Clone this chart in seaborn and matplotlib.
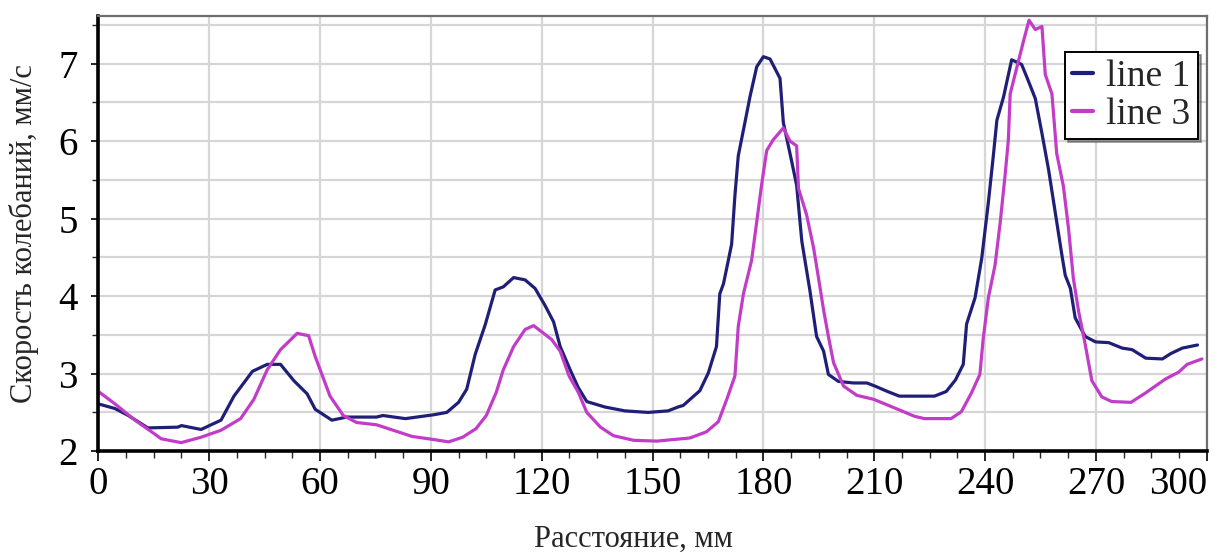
"""Скорость колебаний по длине: line 1 и line 3."""

import matplotlib

matplotlib.use("Agg")
import matplotlib.pyplot as plt
import numpy as np
import pandas as pd
import seaborn as sns
from matplotlib.ticker import MultipleLocator

# Данные
x_line1 = [0, 4.5, 8.1, 13.4, 21.5, 22.5, 27.8, 33.2, 36.7, 41.7, 45.7, 49.3, 52.9, 56.5,
           58.7, 63.2, 67.2, 75.3, 77.0, 83.1, 90.8, 94.3, 97.5, 99.7, 102.0, 104.7, 107.4,
           109.6, 112.4, 115.5, 118.2, 120.9, 123.2, 125.0, 127.7, 129.9, 132.2, 137.1,
           142.5, 148.8, 154.2, 156.9, 158.3, 162.8, 165.1, 167.3, 168.2, 169.2, 170.5,
           171.4, 172.3, 173.2, 175.0, 176.4, 178.2, 180.0, 181.8, 184.5, 185.4, 187.7,
           189.0, 190.4, 192.6, 194.4, 196.3, 197.6, 200.3, 204.4, 208.0, 210.2, 213.6,
           216.8, 226.3, 229.5, 232.0, 234.1, 235.0, 237.3, 239.1, 240.9, 242.3, 243.2,
           245.0, 247.2, 249.9, 251.7, 253.6, 255.4, 257.2, 259.0, 260.8, 261.7, 263.1,
           264.4, 267.1, 269.9, 273.5, 277.1, 279.8, 283.5, 288.0, 290.3, 293.4, 297.5]
y_line1 = [2.61, 2.55, 2.46, 2.30, 2.31, 2.33, 2.28, 2.40, 2.71, 3.03, 3.12, 3.12, 2.91, 2.74,
           2.54, 2.40, 2.44, 2.44, 2.46, 2.42, 2.47, 2.50, 2.63, 2.80, 3.25, 3.63, 4.08,
           4.12, 4.24, 4.21, 4.10, 3.88, 3.67, 3.35, 3.05, 2.82, 2.64, 2.57,
           2.52, 2.50, 2.52, 2.57, 2.59, 2.78, 3.01, 3.35, 4.03, 4.16, 4.46,
           4.67, 5.30, 5.81, 6.24, 6.58, 6.96, 7.09, 7.06, 6.81, 6.24, 5.73,
           5.43, 4.71, 4.07, 3.48, 3.29, 2.99, 2.90, 2.88, 2.88, 2.84, 2.77,
           2.71, 2.71, 2.77, 2.92, 3.12, 3.64, 3.98, 4.49, 5.21, 5.84, 6.27,
           6.57, 7.05, 6.99, 6.78, 6.55, 6.10, 5.63, 5.08, 4.53, 4.27, 4.10,
           3.72, 3.48, 3.41, 3.40, 3.33, 3.31, 3.20, 3.19, 3.26, 3.33, 3.37]

x_line3 = [0, 4.5, 9.9, 14.4, 17.0, 22.4, 27.8, 33.2, 38.5, 42.1, 45.7, 49.3, 53.8, 56.9,
           58.7, 62.7, 66.3, 69.9, 75.3, 79.8, 84.9, 90.8, 94.8, 98.6, 102.2, 105.0, 107.7,
           109.6, 112.4, 115.5, 117.8, 120.0, 122.7, 125.0, 127.4, 129.9, 132.2, 135.9,
           139.4, 144.9, 151.2, 160.1, 164.6, 167.8, 170.1, 172.3, 173.2, 174.6, 176.8,
           178.2, 179.5, 180.9, 182.7, 185.4, 187.2, 189.0, 189.5, 191.7, 193.6, 194.9,
           196.3, 197.6, 199.0, 201.7, 205.3, 209.8, 215.4, 220.9, 223.6, 230.8, 233.6,
           236.3, 238.6, 239.5, 240.9, 242.7, 244.1, 245.4, 246.3, 246.8, 248.6, 250.4,
           251.9, 253.6, 255.4, 256.3, 258.1, 259.4, 261.2, 262.6, 263.9, 265.3, 267.1,
           268.9, 271.6, 274.3, 279.5, 283.4, 288.8, 292.4, 294.7, 298.7]
y_line3 = [2.77, 2.61, 2.40, 2.25, 2.16, 2.11, 2.18, 2.27, 2.42, 2.67, 3.05, 3.31, 3.52, 3.49,
           3.22, 2.71, 2.46, 2.37, 2.34, 2.27, 2.19, 2.15, 2.12, 2.18, 2.29, 2.46, 2.76,
           3.05, 3.35, 3.57, 3.62, 3.54, 3.44, 3.29, 2.97, 2.76, 2.50, 2.31,
           2.20, 2.14, 2.13, 2.17, 2.25, 2.38, 2.67, 2.97, 3.61, 4.03, 4.46,
           4.96, 5.43, 5.88, 6.02, 6.17, 6.00, 5.94, 5.39, 5.05, 4.62, 4.24,
           3.82, 3.48, 3.14, 2.84, 2.72, 2.67, 2.56, 2.45, 2.42, 2.42, 2.51,
           2.75, 2.99, 3.45, 3.98, 4.40, 4.95, 5.55, 6.01, 6.61, 6.95, 7.29,
           7.56, 7.44, 7.48, 6.86, 6.61, 5.84, 5.42, 4.87, 4.23, 3.81, 3.38,
           2.91, 2.70, 2.64, 2.63, 2.75, 2.93, 3.02, 3.12, 3.19]

x_ticks = [0, 30, 60, 90, 120, 150, 180, 210, 240, 270, 300]
y_ticks = [2, 3, 4, 5, 6, 7]

sns.set_theme(style="white")
plt.rcParams["font.family"] = ["Liberation Serif", "DejaVu Serif"]

df = pd.concat([
    pd.DataFrame({"x": x_line1, "y": y_line1, "line": "line 1"}),
    pd.DataFrame({"x": x_line3, "y": y_line3, "line": "line 3"}),
])

fig = plt.figure(figsize=(12.22, 5.57), dpi=100)
ax = fig.add_axes([0.0805, 0.19, 0.907, 0.782])

sns.lineplot(data=df, x="x", y="y", hue="line", sort=False, estimator=None,
             palette={"line 1": "#1f1f78", "line 3": "#c23cc8"}, linewidth=2.3, ax=ax)

ax.set_xlim(0, 300)
ax.set_ylim(2.03, 7.62)
ax.set_xticks(x_ticks)
ax.set_yticks(y_ticks)
ax.xaxis.set_minor_locator(MultipleLocator(7.5))
ax.yaxis.set_minor_locator(MultipleLocator(0.5))

ax.grid(True, axis="x", which="major", color="#d6d6d6", linewidth=1.6)
ax.grid(True, axis="y", which="both", color="#d6d6d6", linewidth=1.6)
ax.set_axisbelow(True)

ax.tick_params(axis="x", which="major", direction="out", length=7, width=1.2,
               labelsize=28, pad=4, colors="black")
ax.tick_params(axis="x", which="minor", direction="out", length=5, width=1.0)
ax.tick_params(axis="y", which="major", direction="out", length=5, width=1.2,
               labelsize=28, pad=10, colors="black")
ax.tick_params(axis="y", which="minor", direction="out", length=4, width=1.0)
ax.xaxis.set_ticks_position("bottom")
ax.yaxis.set_ticks_position("left")

# последняя подпись сдвинута внутрь, как на исходнике
ax.get_xticklabels()[-1].set_horizontalalignment("right")
ax.get_xticklabels()[-1].set_x(300)

for side in ("left", "bottom"):
    ax.spines[side].set_color("black")
    ax.spines[side].set_linewidth(2.6)
for side in ("top", "right"):
    ax.spines[side].set_color("#6e6e6e")
    ax.spines[side].set_linewidth(1.6)

ax.set_xlabel("Расстояние, мм", fontsize=22)
ax.xaxis.set_label_coords(0.483, -0.17)
ax.set_ylabel("Скорость колебаний, мм/с", fontsize=22, labelpad=14)

leg = ax.legend(loc="upper right", bbox_to_anchor=(0.992, 0.917), borderaxespad=0,
                fontsize=27, handlelength=0.55, handletextpad=0.35, labelspacing=0.1,
                borderpad=0.2, frameon=True, fancybox=False, shadow=True, title=None)
leg.get_frame().set_edgecolor("black")
leg.get_frame().set_linewidth(1.4)
for line in leg.get_lines():
    line.set_linewidth(3)

fig.savefig("out.png", dpi=100)
